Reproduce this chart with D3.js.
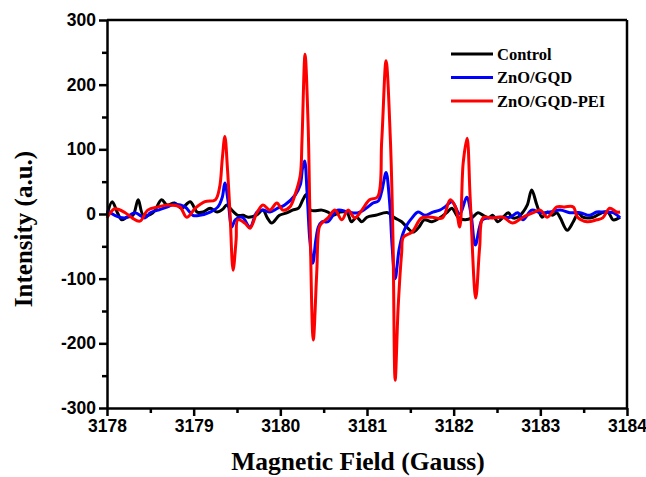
<!DOCTYPE html>
<html>
<head>
<meta charset="utf-8">
<script src="https://cdn.jsdelivr.net/npm/d3@7"></script>
<style>
  body { margin: 0; background: #fff; }
  svg { font-family: "Liberation Serif", "Times New Roman", serif; font-weight: bold; }
  .axis path, .axis line { stroke: #000; stroke-width: 2.5; }
  .axis text { font-size: 17.5px; font-weight: bold; fill: #000; }
</style>
</head>
<body>
<script>
// Control (x: Gauss, y: a.u.)
var control = [
  [3178.00,-2],[3178.06,19],[3178.12,2],[3178.17,-9],[3178.23,-5],[3178.30,-2],[3178.36,22],[3178.42,-2],
  [3178.53,2],[3178.63,22],[3178.69,14],[3178.78,17],[3178.86,9],[3178.96,19],[3179.04,3],[3179.11,3],
  [3179.19,9],[3179.27,3],[3179.34,8],[3179.38,14],[3179.42,9],[3179.51,-2],[3179.57,-2],[3179.63,-5],
  [3179.72,-2],[3179.80,6],[3179.85,-6],[3179.90,-14],[3179.99,-2],[3180.08,2],[3180.14,6],[3180.21,9],
  [3180.26,22],[3180.30,30],[3180.35,6],[3180.48,6],[3180.55,3],[3180.61,-2],[3180.69,3],[3180.77,2],
  [3180.82,-12],[3180.88,-5],[3180.94,-12],[3181.00,-5],[3181.10,-2],[3181.24,2],[3181.32,-6],[3181.40,-12],
  [3181.47,-22],[3181.53,-28],[3181.60,-20],[3181.66,-9],[3181.75,-12],[3181.84,-6],[3181.92,2],[3181.98,9],
  [3182.05,-5],[3182.13,-9],[3182.21,-6],[3182.28,2],[3182.34,-2],[3182.40,-6],[3182.45,-2],[3182.51,-12],
  [3182.57,-5],[3182.63,2],[3182.68,-6],[3182.74,-5],[3182.80,3],[3182.85,14],[3182.90,37],[3182.96,14],
  [3183.02,-5],[3183.08,3],[3183.14,-2],[3183.19,2],[3183.23,-6],[3183.31,-25],[3183.38,-12],[3183.44,2],
  [3183.49,-5],[3183.61,-5],[3183.71,2],[3183.78,3],[3183.84,-9],[3183.92,-5]
];

var zno = [
  [3178.00,6],[3178.09,-2],[3178.21,-6],[3178.32,2],[3178.44,-6],[3178.50,2],[3178.59,6],[3178.70,11],
  [3178.78,15],[3178.90,11],[3178.99,-2],[3179.07,-2],[3179.19,3],[3179.28,11],[3179.33,26],[3179.36,48],
  [3179.40,17],[3179.44,-20],[3179.48,-9],[3179.56,-5],[3179.65,-20],[3179.73,3],[3179.80,6],[3179.88,3],
  [3179.97,9],[3180.05,14],[3180.17,29],[3180.23,45],[3180.255,70],[3180.28,82],[3180.31,30],[3180.34,-40],
  [3180.375,-76],[3180.41,-40],[3180.44,-20],[3180.48,-12],[3180.55,-12],[3180.66,6],[3180.78,3],[3180.90,2],
  [3181.01,11],[3181.07,17],[3181.13,20],[3181.17,35],[3181.22,64],[3181.26,20],[3181.29,-50],[3181.325,-100],
  [3181.37,-55],[3181.415,-30],[3181.46,-17],[3181.52,-6],[3181.59,3],[3181.67,-2],[3181.76,3],[3181.84,6],
  [3181.90,11],[3181.98,19],[3182.07,0],[3182.15,26],[3182.20,0],[3182.25,-48],[3182.33,-9],[3182.42,-6],
  [3182.54,-5],[3182.65,-5],[3182.74,2],[3182.80,-9],[3182.90,6],[3183.00,2],[3183.11,3],[3183.23,6],
  [3183.34,2],[3183.46,2],[3183.57,-2],[3183.65,3],[3183.72,3],[3183.84,2],[3183.92,-6]
];

var znoPei = [
  [3178.00,-6],[3178.09,8],[3178.21,2],[3178.29,-6],[3178.38,-11],[3178.47,6],[3178.59,11],[3178.70,14],
  [3178.84,11],[3178.92,-5],[3179.02,9],[3179.13,19],[3179.25,22],[3179.30,42],[3179.33,85],[3179.36,120],
  [3179.39,70],[3179.42,0],[3179.455,-87],[3179.49,-40],[3179.51,-9],[3179.59,-14],[3179.65,-22],[3179.73,2],
  [3179.80,14],[3179.88,6],[3179.96,17],[3180.03,6],[3180.11,11],[3180.17,30],[3180.23,60],[3180.25,114],
  [3180.285,247],[3180.32,141],[3180.34,10],[3180.38,-195],[3180.42,-91],[3180.45,-20],[3180.48,-14],
  [3180.55,-6],[3180.63,6],[3180.71,-9],[3180.78,6],[3180.86,-6],[3180.94,6],[3181.03,22],[3181.12,26],
  [3181.17,114],[3181.22,237],[3181.27,114],[3181.30,-40],[3181.325,-257],[3181.36,-143],[3181.40,-60],
  [3181.42,-36],[3181.52,-28],[3181.63,-6],[3181.75,-5],[3181.87,-6],[3181.96,22],[3182.02,11],[3182.07,-20],
  [3182.11,79],[3182.155,117],[3182.19,26],[3182.255,-130],[3182.30,-51],[3182.34,-6],[3182.45,-6],
  [3182.57,-5],[3182.68,-14],[3182.80,-5],[3182.92,2],[3183.00,6],[3183.08,-5],[3183.19,11],[3183.28,11],
  [3183.38,11],[3183.43,-5],[3183.54,-12],[3183.65,-9],[3183.72,-6],[3183.80,9],[3183.88,3],[3183.92,3]
];

var seriesNames  = ["Control", "ZnO/GQD", "ZnO/GQD-PEI"];
var seriesColors = ["#000000", "#0000ff", "#ff0000"];
var xTicks = [3178, 3179, 3180, 3181, 3182, 3183, 3184];
var yTicks = [-300, -200, -100, 0, 100, 200, 300];

var W = 646, H = 477;
var margin = {top: 20, right: 19, bottom: 69, left: 107};
var width  = W - margin.left - margin.right,
    height = H - margin.top - margin.bottom;

var svg = d3.select("body").append("svg")
  .attr("width", W)
  .attr("height", H);

var g = svg.append("g")
  .attr("transform", "translate(" + margin.left + "," + margin.top + ")");

var x = d3.scaleLinear().domain([3178, 3184]).range([0, width]);
var y = d3.scaleLinear().domain([-300, 300]).range([height, 0]);

var line = d3.line()
  .x(function(d) { return x(d[0]); })
  .y(function(d) { return y(d[1]); })
  .curve(d3.curveCatmullRom.alpha(0.5));

var data = [control, zno, znoPei];

g.selectAll(".series")
  .data(data)
  .enter().append("path")
  .attr("class", "series")
  .attr("fill", "none")
  .attr("stroke", function(d, i) { return seriesColors[i]; })
  .attr("stroke-width", 3)
  .attr("stroke-linejoin", "round")
  .attr("d", line);

// plain hyphen for negatives, like the original
var plain = function(d) { return String(d); };

// minor ticks
g.append("g")
 .attr("class", "axis")
 .attr("transform", "translate(0," + height + ")")
 .call(d3.axisBottom(x).tickValues(d3.range(3178.5, 3184, 1)).tickSize(5).tickFormat(""))
 .select(".domain").remove();

g.append("g")
 .attr("class", "axis")
 .call(d3.axisLeft(y).tickValues(d3.range(-250, 300, 100)).tickSize(5).tickFormat(""))
 .select(".domain").remove();

// major axes
g.append("g")
 .attr("class", "axis")
 .attr("transform", "translate(0," + height + ")")
 .call(d3.axisBottom(x).tickValues(xTicks).tickSize(8).tickSizeOuter(0).tickPadding(4).tickFormat(plain));

g.append("g")
 .attr("class", "axis")
 .call(d3.axisLeft(y).tickValues(yTicks).tickSize(8).tickSizeOuter(0).tickPadding(3).tickFormat(plain));

// box top and right
g.append("line")
 .attr("x1", 0).attr("x2", width).attr("y1", 0).attr("y2", 0)
 .attr("stroke", "#000").attr("stroke-width", 2.5);
g.append("line")
 .attr("x1", width).attr("x2", width).attr("y1", 0).attr("y2", height)
 .attr("stroke", "#000").attr("stroke-width", 2.5);

// axis titles
svg.append("text")
   .attr("x", margin.left + width / 2 - 9)
   .attr("y", 470)
   .style("text-anchor", "middle")
   .style("font-size", "25.5px")
   .text("Magnetic Field (Gauss)");

svg.append("text")
   .attr("transform", "translate(32," + 229 + ") rotate(-90)")
   .style("text-anchor", "middle")
   .style("font-size", "25px")
   .text("Intensity (a.u.)");

// legend
var legend = svg.append("g")
  .attr("transform", "translate(451,54)");

var item = legend.selectAll(".item")
  .data(seriesNames)
  .enter().append("g")
  .attr("transform", function(d, i) { return "translate(0," + (i * 23.5) + ")"; });

item.append("line")
  .attr("x1", 0).attr("x2", 42)
  .attr("stroke", function(d, i) { return seriesColors[i]; })
  .attr("stroke-width", 3);

item.append("text")
  .attr("x", 46)
  .attr("dy", "0.35em")
  .style("font-size", "16.5px")
  .text(function(d) { return d; });
</script>
</body>
</html>
